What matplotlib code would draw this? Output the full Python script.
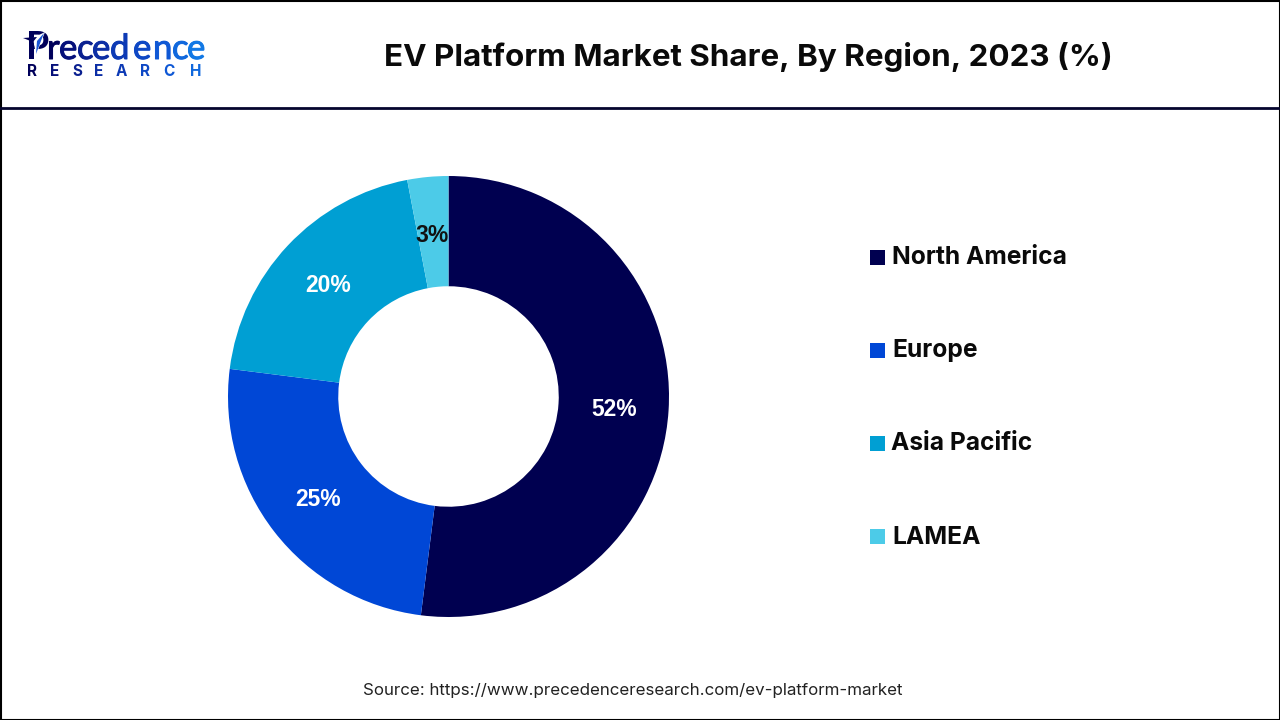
import matplotlib
matplotlib.use("Agg")
import matplotlib.pyplot as plt
import matplotlib.patheffects as pe
from matplotlib.patches import Rectangle, Polygon

regions = ["North America", "Europe", "Asia Pacific", "LAMEA"]
shares = [52, 25, 20, 3]
share_labels = ["52%", "25%", "20%", "3%"]
label_colors = ["white", "white", "white", "#111111"]
colors = ["#000050", "#0047d6", "#009fd3", "#4ccbe8"]

W, H = 1280, 720
fig = plt.figure(figsize=(W / 100, H / 100), dpi=100, facecolor="white")

# full-figure pixel axes for frame, header and logo
bg = fig.add_axes([0, 0, 1, 1])
bg.set_xlim(0, W)
bg.set_ylim(H, 0)
bg.axis("off")
bg.add_patch(Rectangle((0.5, 0.5), W - 1, H - 1, fill=False, ec="black", lw=1.5))
bg.plot([0, W], [108, 108], color="#05052e", lw=2)

bg.text(748, 57, "EV Platform Market Share, By Region, 2023 (%)", ha="center", va="center",
        fontsize=22.6, fontweight="bold", family="Inter", color="#0a0a0a")
bg.text(363, 691, "Source: https://www.precedenceresearch.com/ev-platform-market", ha="left", va="center",
        fontsize=12.2, family="Inter", color="#222222")

# logo
logo = "Precedence"
logo_x = [26, 47, 59, 77, 92, 110, 133, 153, 172, 187]
logo_col = ["#00005a", "#00005a", "#06107a", "#0a2090", "#0c2ea5", "#0d3ab5", "#0e48c5", "#0f58d5", "#1068dd", "#1178e5"]
for i, ch in enumerate(logo):
    t = bg.text(logo_x[i], 59, ch, fontsize=27 if i == 0 else 25, family="Lato", color=logo_col[i],
                fontweight="bold" if i == 0 else "normal", ha="left", va="baseline")
    if i > 0:
        t.set_path_effects([pe.withStroke(linewidth=0.7, foreground=logo_col[i])])
bg.add_patch(Polygon([(33, 38), (45, 32), (36, 55)], closed=True, fc="white", ec="none", zorder=4))
bg.add_patch(Polygon([(37, 41), (44, 33), (36, 54)], closed=True, fc="#1a56d6", ec="none", zorder=5))
bg.add_patch(Polygon([(23, 38), (37, 37), (33, 42)], closed=True, fc="#00005a", ec="none", zorder=5))
sub = "RESEARCH"
sub_x = [27, 50, 72, 94, 116, 140, 163, 190]
for i, ch in enumerate(sub):
    bg.text(sub_x[i], 71.5, ch, fontsize=11, family="Inter", fontweight="bold",
            color=logo_col[min(i + 1, 9)], ha="left", va="center")

# donut, outer diameter about 441 px
cx, cy, r = 448.5, 396.5, 220.5
ax = fig.add_axes([(cx - r) / W, 1 - (cy + r) / H, 2 * r / W, 2 * r / H])
wedges, _ = ax.pie(shares, colors=colors, startangle=90, counterclock=False, radius=1,
                   wedgeprops=dict(width=0.5, linewidth=0))
ax.set_xlim(-1, 1)
ax.set_ylim(-1, 1)

label_pos = [(614, 409), (318, 499), (328, 285), (432, 235)]
for txt, col, (x, y) in zip(share_labels, label_colors, label_pos):
    bg.text(x, y, txt, ha="center", va="center", fontsize=16.5, fontweight="bold",
            family="Liberation Sans", color=col, zorder=5)
bg.set_zorder(ax.get_zorder() + 1)
bg.patch.set_alpha(0)

# legend
leg_y = [257, 350, 443, 536]
text_y = [257, 350, 444, 537]
names_x = [892, 892, 891, 892]
for name, col, y, ty, tx in zip(regions, colors, leg_y, text_y, names_x):
    bg.add_patch(Rectangle((870, y - 7.5), 15, 15, fc=col, ec="none"))
    bg.text(tx, ty, name, ha="left", va="center", fontsize=17.7, fontweight="bold",
            family="Inter", color="#0a0a0a")

fig.savefig("out.png", dpi=100)
